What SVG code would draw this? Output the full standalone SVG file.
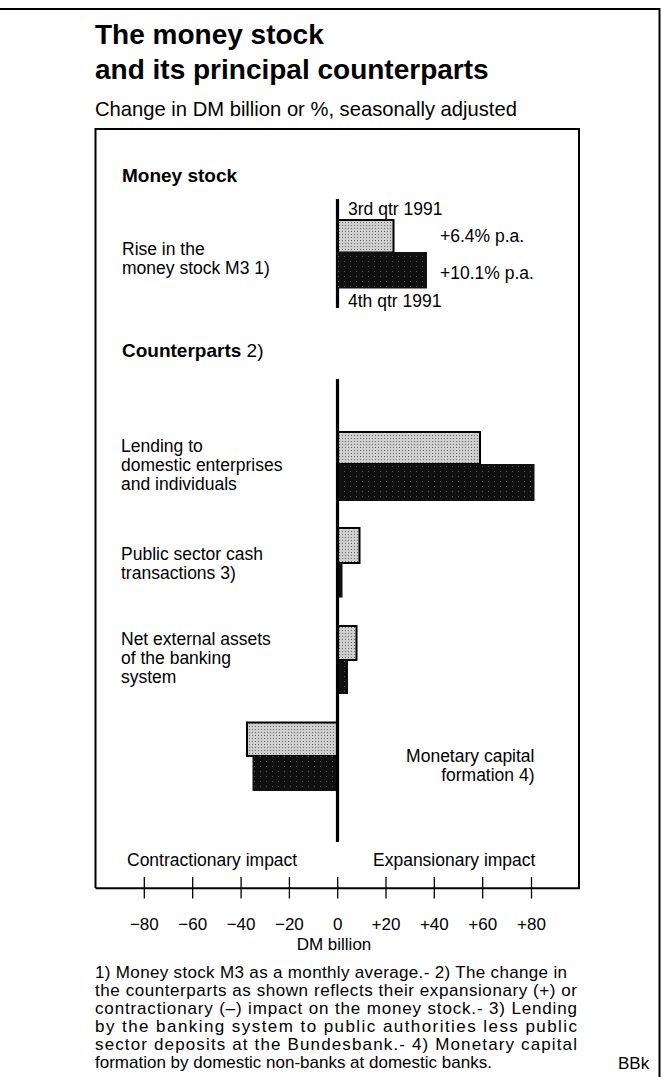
<svg xmlns="http://www.w3.org/2000/svg" width="662" height="1077" viewBox="0 0 662 1077">
<style>
text{font-family:"Liberation Sans",Arial,Helvetica,sans-serif;fill:#000}
.title{font-size:28px;font-weight:bold}
.sub{font-size:20.2px}
.head{font-size:19px;font-weight:bold}
.lbl{font-size:17.5px}
.tick{font-size:17px}
.fn{font-size:17px}
.frame{fill:none;stroke:#000;stroke-width:2}
.zero{stroke:#000;stroke-width:3.2}
.tk{stroke:#000;stroke-width:1.3}
.gbar{fill:url(#grey);stroke:#000;stroke-width:2}
.bbar{fill:url(#dark)}
</style>
<defs>
<pattern id="grey" width="3" height="3" patternUnits="userSpaceOnUse">
<rect width="3" height="3" fill="#cfcfcf"/>
<rect width="1" height="1" fill="#6a6a6a"/>
</pattern>
<pattern id="dark" width="6" height="5" patternUnits="userSpaceOnUse">
<rect width="6" height="5" fill="#101010"/>
<rect x="2" y="1" width="1" height="1" fill="#555"/>
</pattern>
</defs>
<rect width="662" height="1077" fill="#fff"/>
<g id="outer-frame">
<path class="frame" d="M0,9 H659.5 V1077"/>
</g>
<g id="title">
<text class="title" x="95" y="44">The money stock</text>
<text class="title" x="95" y="79">and its principal counterparts</text>
</g>
<g id="subtitle">
<text class="sub" x="95" y="116">Change in DM billion or %, seasonally adjusted</text>
</g>
<g id="chart-box">
<path class="frame" d="M95.5,888 V129 H579 V888"/>
</g>
<g id="money-stock">
<text class="head" x="122" y="182">Money stock</text>
<text class="lbl" x="122" y="255">Rise in the</text>
<text class="lbl" x="122" y="273.5">money stock M3 1)</text>
<line class="zero" x1="337.5" y1="199" x2="337.5" y2="308"/>
<text class="lbl" x="348" y="215">3rd qtr 1991</text>
<rect class="gbar" x="338" y="220" width="55.5" height="32.5"/>
<rect class="bbar" x="337" y="252" width="90" height="36.5"/>
<text class="lbl" x="440" y="242">+6.4% p.a.</text>
<text class="lbl" x="440" y="278.5">+10.1% p.a.</text>
<text class="lbl" x="348" y="307">4th qtr 1991</text>
</g>
<g id="counterparts-head">
<text class="head" x="122" y="357">Counterparts<tspan font-weight="normal"> 2)</tspan></text>
</g>
<g id="lending">
<text class="lbl" x="121" y="452">Lending to</text>
<text class="lbl" x="121" y="471">domestic enterprises</text>
<text class="lbl" x="121" y="489.5">and individuals</text>
<rect class="gbar" x="338" y="432" width="142" height="32"/>
<rect class="bbar" x="337" y="464" width="197.5" height="37"/>
</g>
<g id="public-sector">
<text class="lbl" x="121" y="559.5">Public sector cash</text>
<text class="lbl" x="121" y="578.5">transactions 3)</text>
<rect class="gbar" x="338" y="528" width="21.5" height="35"/>
<rect class="bbar" x="337" y="563" width="5.5" height="34.5"/>
</g>
<g id="net-external">
<text class="lbl" x="121" y="644.5">Net external assets</text>
<text class="lbl" x="121" y="663.5">of the banking</text>
<text class="lbl" x="121" y="683">system</text>
<rect class="gbar" x="338" y="626" width="18.5" height="34"/>
<rect class="bbar" x="337" y="660" width="11" height="34"/>
</g>
<g id="monetary-capital">
<text class="lbl" x="534.5" y="762" text-anchor="end">Monetary capital</text>
<text class="lbl" x="534.5" y="780.5" text-anchor="end">formation 4)</text>
<rect class="gbar" x="247" y="722.5" width="90" height="33.5"/>
<rect class="bbar" x="252.5" y="756" width="85" height="35"/>
</g>
<g id="connectors">
<line class="zero" x1="337.5" y1="379" x2="337.5" y2="842"/>
<line stroke="#000" stroke-width="2" x1="95.5" y1="888.3" x2="580" y2="888.3"/>
<g id="ticks">
<line class="tk" x1="144.3" y1="877" x2="144.3" y2="898.5"/>
<line class="tk" x1="192.7" y1="877" x2="192.7" y2="898.5"/>
<line class="tk" x1="241.1" y1="877" x2="241.1" y2="898.5"/>
<line class="tk" x1="289.4" y1="877" x2="289.4" y2="898.5"/>
<line class="tk" x1="337.7" y1="877" x2="337.7" y2="898.5"/>
<line class="tk" x1="386" y1="877" x2="386" y2="898.5"/>
<line class="tk" x1="434.3" y1="877" x2="434.3" y2="898.5"/>
<line class="tk" x1="482.7" y1="877" x2="482.7" y2="898.5"/>
<line class="tk" x1="531.5" y1="877" x2="531.5" y2="898.5"/>
</g>
</g>
<g id="axis-labels">
<text class="lbl" x="127" y="866">Contractionary impact</text>
<text class="lbl" x="373" y="866">Expansionary impact</text>
<g class="tick" text-anchor="middle">
<text class="tick" x="144.3" y="930">−80</text>
<text class="tick" x="192.7" y="930">−60</text>
<text class="tick" x="241.1" y="930">−40</text>
<text class="tick" x="289.4" y="930">−20</text>
<text class="tick" x="337.7" y="930">0</text>
<text class="tick" x="386" y="930">+20</text>
<text class="tick" x="434.3" y="930">+40</text>
<text class="tick" x="482.7" y="930">+60</text>
<text class="tick" x="531.5" y="930">+80</text>
</g>
<text class="tick" x="334" y="950" text-anchor="middle">DM billion</text>
</g>
<g id="footnotes">
<text class="fn" x="95" y="978" textLength="472">1) Money stock M3 as a monthly average.- 2) The change in</text>
<text class="fn" x="95" y="996" textLength="482">the counterparts as shown reflects their expansionary (+) or</text>
<text class="fn" x="95" y="1014" textLength="482">contractionary (–) impact on the money stock.- 3) Lending</text>
<text class="fn" x="95" y="1032" textLength="482">by the banking system to public authorities less public</text>
<text class="fn" x="95" y="1050" textLength="482">sector deposits at the Bundesbank.- 4) Monetary capital</text>
<text class="fn" x="95" y="1068">formation by domestic non-banks at domestic banks.</text>
<text class="fn" x="618" y="1069">BBk</text>
</g>
</svg>
